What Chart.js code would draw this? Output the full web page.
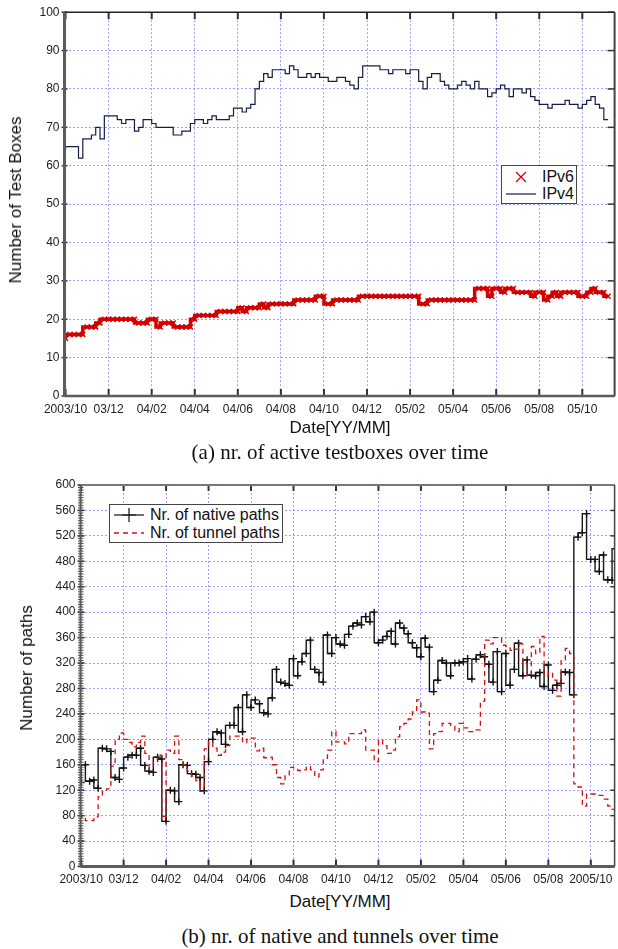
<!DOCTYPE html>
<html>
<head>
<meta charset="utf-8">
<script src="https://cdn.jsdelivr.net/npm/chart.js@4.4.1/dist/chart.umd.min.js"></script>
<style>
  html, body { margin: 0; padding: 0; background: #fff; }
  body { position: relative; width: 618px; height: 949px; overflow: hidden;
         font-family: 'Liberation Sans', Arial, sans-serif; color: #111; }
  canvas { position: absolute; left: 0; }
  #boxesChart { top: 0; }
  #pathsChart { top: 470px; }
  .ytitle { position: absolute; transform: translate(-50%, -50%) rotate(-90deg);
            white-space: nowrap; font-size: 17px; }
  .xtitle { position: absolute; transform: translate(-50%, -50%);
            white-space: nowrap; font-size: 17px; }
  .caption { position: absolute; transform: translate(-50%, -50%); white-space: nowrap;
             font-family: 'Liberation Serif', 'Times New Roman', serif; font-size: 21px; }
  .legend { position: absolute; background: #fff; border: 1.5px solid #444; box-sizing: border-box; }
  .legend .item { position: absolute; left: 0; right: 0; height: 18px; }
  .legend svg { position: absolute; top: 0; }
  .legend span { position: absolute; top: 50%; transform: translateY(-50%); font-size: 16px;
                 white-space: nowrap; line-height: 1; }
</style>
</head>
<body>
<canvas id="boxesChart" width="620" height="420"></canvas>
<canvas id="pathsChart" width="620" height="420"></canvas>

<div class="ytitle" style="left:16px; top:200px;">Number of Test Boxes</div>
<div class="xtitle" style="left:340px; top:428px;">Date[YY/MM]</div>
<div class="caption" style="left:340px; top:452px;">(a) nr. of active testboxes over time</div>

<div class="ytitle" style="left:27px; top:668px;">Number of paths</div>
<div class="xtitle" style="left:340px; top:902px;">Date[YY/MM]</div>
<div class="caption" style="left:340px; top:936px;">(b) nr. of native and tunnels over time</div>

<div id="boxesLegend" class="legend" style="left:501px; top:165px; width:76px; height:39px;"></div>
<div id="pathsLegend" class="legend" style="left:109px; top:504px; width:174px; height:39px;"></div>

<script>
// Time axis: months counted from 2003/10; one sample every 0.2 month.
const FIRST_SAMPLE_MONTH = 0;
const SAMPLE_STEP_MONTHS = 0.2;

const tickMonths = [0, 2, 4, 6, 8, 10, 12, 14, 16, 18, 20, 22, 24];
const boxesTickLabels = ['2003/10', '03/12', '04/02', '04/04', '04/06', '04/08', '04/10',
                         '04/12', '05/02', '05/04', '05/06', '05/08', '05/10'];
const pathsTickLabels = ['2003/10', '03/12', '04/02', '04/04', '04/06', '04/08', '04/10',
                         '04/12', '05/02', '05/04', '05/06', '05/08', '2005/10'];

// Active test boxes
const ipv4Boxes = [
  64, 65, 65, 65, 62, 67, 67, 68, 70, 67,
  73, 73, 73, 72, 71, 72, 72, 69, 70, 72,
  72, 71, 70, 70, 70, 70, 68, 68, 69, 69,
  71, 72, 72, 71, 72, 73, 72, 72, 72, 73,
  75, 75, 74, 75, 76, 80, 82, 84, 83, 85,
  85, 85, 84, 86, 85, 83, 83, 84, 83, 84,
  83, 83, 82, 82, 83, 83, 82, 81, 80, 83,
  86, 86, 86, 86, 85, 85, 84, 85, 85, 85,
  84, 85, 85, 82, 80, 83, 84, 84, 82, 81,
  80, 80, 81, 82, 81, 80, 82, 80, 80, 78,
  79, 80, 81, 80, 78, 80, 80, 79, 80, 78,
  77, 76, 76, 75, 76, 76, 76, 77, 76, 76,
  75, 76, 77, 78, 76, 75, 72
];
const ipv6Boxes = [
  15, 16, 16, 16, 16, 18, 18, 18, 19, 20,
  20, 20, 20, 20, 20, 20, 20, 19, 19, 19,
  20, 20, 18, 19, 19, 19, 18, 18, 18, 18,
  20, 21, 21, 21, 21, 21, 22, 22, 22, 22,
  22, 23, 22, 23, 23, 23, 24, 23, 24, 24,
  24, 24, 24, 24, 25, 25, 25, 25, 25, 26,
  26, 24, 24, 25, 25, 25, 25, 25, 25, 26,
  26, 26, 26, 26, 26, 26, 26, 26, 26, 26,
  26, 26, 26, 24, 24, 25, 25, 25, 25, 25,
  25, 25, 25, 25, 25, 25, 28, 28, 28, 26,
  28, 28, 27, 28, 28, 27, 27, 27, 27, 26,
  27, 27, 25, 26, 27, 26, 27, 27, 27, 27,
  26, 26, 27, 28, 27, 27, 26
];

// Measured paths
const nativePaths = [
  132, 160, 134, 136, 123, 186, 185, 181, 140, 137,
  155, 172, 175, 175, 186, 159, 150, 148, 172, 169,
  71, 120, 119, 102, 160, 159, 146, 145, 140, 119,
  165, 200, 212, 210, 192, 222, 222, 250, 212, 270,
  250, 262, 256, 242, 240, 265, 310, 290, 288, 285,
  327, 300, 322, 335, 356, 310, 305, 290, 364, 335,
  360, 350, 348, 365, 378, 383, 380, 393, 385, 400,
  352, 356, 362, 370, 350, 383, 375, 366, 352, 344,
  330, 359, 345, 275, 293, 324, 320, 300, 320, 320,
  322, 327, 295, 326, 333, 330, 318, 290, 338, 275,
  335, 285, 310, 351, 300, 325, 301, 300, 305, 283,
  317, 277, 285, 288, 306, 305, 270, 518, 525, 555,
  483, 483, 464, 490, 451, 450, 500
];
const tunnelPaths = [
  84, 78, 72, 72, 78, 110, 118, 122, 158, 200,
  210, 200, 195, 188, 195, 205, 178, 155, 165, 175,
  79, 183, 178, 205, 168, 160, 150, 142, 135, 118,
  185, 196, 186, 175, 180, 190, 205, 205, 205, 195,
  200, 202, 182, 186, 171, 172, 160, 140, 130, 144,
  156, 155, 151, 152, 157, 152, 141, 152, 170, 183,
  212, 196, 196, 193, 209, 209, 209, 215, 183, 183,
  165, 199, 190, 178, 183, 204, 220, 225, 232, 243,
  262, 243, 241, 185, 209, 212, 225, 225, 222, 212,
  225, 218, 212, 212, 215, 260, 356, 350, 360, 359,
  348, 346, 340, 342, 350, 320, 300, 346, 335, 362,
  300, 305, 293, 268, 325, 343, 335, 130, 125, 95,
  114, 114, 112, 112, 106, 95, 90
];

const GRID_COLOR = 'rgba(125, 125, 255, 0.75)';

function series(values) {
  return values.map((v, i) => ({ x: FIRST_SAMPLE_MONTH + i * SAMPLE_STEP_MONTHS, y: v }));
}

Chart.defaults.font.family = "'Liberation Sans', Arial, sans-serif";
Chart.defaults.font.size = 12;
Chart.defaults.color = '#222';

// Frame, inward tick marks and the dense minor ticks on the value axis.
const axisFramePlugin = {
  id: 'axisFrame',
  afterDraw(chart, args, o) {
    const { ctx, chartArea: a } = chart;
    const xs = chart.scales.x, ys = chart.scales.y;
    const line = (x1, y1, x2, y2, w, c) => {
      ctx.beginPath(); ctx.lineWidth = w; ctx.strokeStyle = c;
      ctx.moveTo(x1, y1); ctx.lineTo(x2, y2); ctx.stroke();
    };
    ctx.save();
    if (o.minorStep) {
      for (let v = ys.min; v <= ys.max + 1e-9; v += o.minorStep) {
        const py = ys.getPixelForValue(v);
        line(a.left - 2.5, py, a.left + 3, py, 1, '#555');
      }
    }
    xs.ticks.forEach(t => {
      const px = xs.getPixelForValue(t.value);
      line(px, a.top, px, a.top + o.topTick, 2, '#333');
      line(px, a.bottom, px, a.bottom - o.bottomTick, 2, '#333');
    });
    ys.ticks.forEach(t => {
      const py = ys.getPixelForValue(t.value);
      line(a.right, py, a.right - o.rightTick, py, 1.5, '#333');
      line(a.left - 3, py, a.left + o.leftTick, py, 1.5, '#333');
    });
    line(a.left, a.top, a.right, a.top, o.topW, o.topColor);
    line(a.right, a.top, a.right, a.bottom, o.rightW, '#444');
    line(a.left, a.bottom, a.right, a.bottom, o.bottomW, '#5c5c5c');
    line(a.left, a.top, a.left, a.bottom, o.leftW, '#5c5c5c');
    ctx.restore();
  }
};

function timeAxis(min, max, labels, height) {
  return {
    type: 'linear', min, max,
    afterFit: s => { s.height = height; },
    afterBuildTicks: s => { s.ticks = tickMonths.map(v => ({ value: v })); },
    ticks: { autoSkip: false, maxRotation: 0, padding: 6, callback: (v, i) => labels[i] },
    grid: { color: GRID_COLOR, lineWidth: 1, drawTicks: false },
    border: { display: false, dash: [2, 2] }
  };
}

function valueAxis(max, step, width) {
  return {
    min: 0, max,
    afterFit: s => { s.width = width; },
    ticks: { stepSize: step, padding: 5 },
    grid: { color: GRID_COLOR, lineWidth: 1, drawTicks: false },
    border: { display: false, dash: [2, 2] }
  };
}

const boxesChart = new Chart(document.getElementById('boxesChart'), {
  type: 'line',
  data: {
    datasets: [
      { label: 'IPv6', data: series(ipv6Boxes), stepped: 'after',
        borderColor: '#d40000', borderWidth: 3.5,
        pointStyle: 'crossRot', pointRadius: 3.5, pointBorderWidth: 1.4,
        pointBorderColor: '#d40000', pointBackgroundColor: '#d40000' },
      { label: 'IPv4', data: series(ipv4Boxes), stepped: 'after',
        borderColor: '#151c48', borderWidth: 1.2, pointRadius: 0 }
    ]
  },
  options: {
    responsive: false, animation: false, events: [], devicePixelRatio: 1,
    layout: { padding: { left: 0, right: 3.5, top: 10, bottom: 0 } },
    plugins: {
      legend: { display: false }, tooltip: { enabled: false },
      axisFrame: { topTick: 7, bottomTick: 7, rightTick: 7, leftTick: 3,
                   topW: 1.5, topColor: '#222', rightW: 2, bottomW: 2.5, leftW: 3 }
    },
    scales: { x: timeAxis(-0.05, 25.5, boxesTickLabels, 24), y: valueAxis(100, 10, 64.5) }
  },
  plugins: [axisFramePlugin]
});

const pathsChart = new Chart(document.getElementById('pathsChart'), {
  type: 'line',
  data: {
    datasets: [
      { label: 'Nr. of native paths', data: series(nativePaths), stepped: 'after', order: 2,
        borderColor: '#151515', borderWidth: 1.4,
        pointStyle: 'cross', pointRadius: 3.5, pointBorderWidth: 1.4,
        pointBorderColor: '#111', pointBackgroundColor: '#111' },
      { label: 'Nr. of tunnel paths', data: series(tunnelPaths), stepped: 'after', order: 1,
        borderColor: '#d11010', borderWidth: 1.3, borderDash: [5, 4], pointRadius: 0 }
    ]
  },
  options: {
    responsive: false, animation: false, events: [], devicePixelRatio: 1,
    layout: { padding: { left: 0, right: 3.5, top: 15, bottom: 0 } },
    plugins: {
      legend: { display: false }, tooltip: { enabled: false },
      axisFrame: { minorStep: 4, topTick: 6, bottomTick: 7, rightTick: 4, leftTick: 4,
                   topW: 2, topColor: '#777', rightW: 1.5, bottomW: 3, leftW: 2 }
    },
    scales: { x: timeAxis(-0.03, 25.12, pathsTickLabels, 23.5), y: valueAxis(600, 40, 80.5) }
  },
  plugins: [axisFramePlugin]
});

// Legends built from the charts' own dataset labels.
const SVGNS = 'http://www.w3.org/2000/svg';
function legendItem(box, top, label, drawSymbol) {
  const item = document.createElement('div');
  item.className = 'item';
  item.style.top = top + 'px';
  const svg = document.createElementNS(SVGNS, 'svg');
  svg.setAttribute('width', '36'); svg.setAttribute('height', '18');
  svg.style.left = '2px';
  drawSymbol(svg);
  const span = document.createElement('span');
  span.style.left = '40px';
  span.textContent = label;
  item.appendChild(svg); item.appendChild(span);
  box.appendChild(item);
}
function svgLine(svg, x1, x2, color, width, dash) {
  const l = document.createElementNS(SVGNS, 'line');
  l.setAttribute('x1', x1); l.setAttribute('x2', x2);
  l.setAttribute('y1', 9); l.setAttribute('y2', 9);
  l.setAttribute('stroke', color); l.setAttribute('stroke-width', width);
  if (dash) l.setAttribute('stroke-dasharray', dash);
  svg.appendChild(l);
}
function svgPath(svg, d, color, width) {
  const p = document.createElementNS(SVGNS, 'path');
  p.setAttribute('d', d); p.setAttribute('stroke', color);
  p.setAttribute('stroke-width', width); p.setAttribute('fill', 'none');
  svg.appendChild(p);
}

const bl = document.getElementById('boxesLegend');
const bds = boxesChart.data.datasets;
legendItem(bl, 1.5, bds[0].label, svg => svgPath(svg, 'M12 4 L22 14 M22 4 L12 14', '#d40000', 1.3));
legendItem(bl, 19, bds[1].label, svg => svgLine(svg, 2, 32, '#151c48', 1.2));

const pl = document.getElementById('pathsLegend');
const pds = pathsChart.data.datasets;
legendItem(pl, 0.5, pds[0].label, svg => {
  svgLine(svg, 2, 32, '#151515', 1.2);
  svgPath(svg, 'M17 2 L17 16 M10 9 L24 9', '#111', 1.2);
});
legendItem(pl, 18.5, pds[1].label, svg => svgLine(svg, 2, 32, '#d11010', 1.3, '5 4'));
</script>
</body>
</html>
